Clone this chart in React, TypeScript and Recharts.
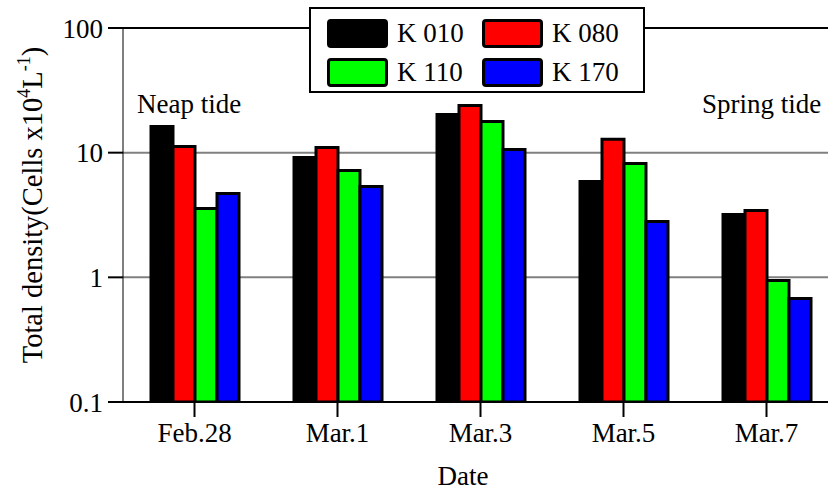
import { BarChart, Bar, XAxis, YAxis, CartesianGrid, ReferenceLine, Legend, Customized } from 'recharts'

const dates = ['Feb.28', 'Mar.1', 'Mar.3', 'Mar.5', 'Mar.7']
const k010 = [16.2, 9.15, 20.2, 5.87, 3.19]
const k080 = [11.2, 11.0, 23.9, 12.8, 3.44]
const k110 = [3.57, 7.19, 17.8, 8.19, 0.943]
const k170 = [4.7, 5.35, 10.6, 2.8, 0.676]
const yTicks = [0.1, 1, 10, 100]

const data = dates.map((date, i) => ({
  date,
  'K 010': k010[i],
  'K 080': k080[i],
  'K 110': k110[i],
  'K 170': k170[i],
}))

const FONT = '"Liberation Serif", "Times New Roman", serif'

const renderLegend = (props: any) => {
  const { payload = [] } = props
  return (
    <div
      style={{
        boxSizing: 'border-box',
        width: 336,
        height: 86,
        border: '2px solid #000',
        background: '#fff',
        display: 'grid',
        gridTemplateColumns: '155px 155px',
        rowGap: 6,
        padding: '10px 0 0 16px',
        fontFamily: FONT,
        fontSize: 27,
        color: '#000',
      }}
    >
      {payload.map((entry: any) => (
        <div key={entry.value} style={{ display: 'flex', alignItems: 'center', height: 29 }}>
          <span
            style={{
              display: 'inline-block',
              boxSizing: 'border-box',
              width: 61,
              height: 29,
              border: '3px solid #000',
              borderRadius: 4,
              background: entry.color,
              marginRight: 9,
            }}
          />
          <span style={{ lineHeight: '29px' }}>{entry.value}</span>
        </div>
      ))}
    </div>
  )
}

// texts that are not tied to an axis
const Notes = () => (
  <g fontFamily={FONT} fontSize={27} fill="#000">
    <text x={137} y={113}>Neap tide</text>
    <text x={702} y={113}>Spring tide</text>
    <text x={463} y={485} textAnchor="middle">Date</text>
    <text x={42} y={205} fontSize={28.5} textAnchor="middle" transform="rotate(-90, 42, 205)">
      Total density(Cells x10
      <tspan dy={-12} fontSize={18}>4</tspan>
      <tspan dy={12}>L</tspan>
      <tspan dy={-12} fontSize={18}>-1</tspan>
      <tspan dy={12}>)</tspan>
    </text>
  </g>
)

export default function App() {
  return (
    <div style={{ position: 'absolute', left: 0, top: 0, width: 828, height: 494, overflow: 'hidden', background: '#fff' }}>
      <BarChart
        width={850}
        height={494}
        data={data}
        margin={{ top: 28, right: 12, left: 23, bottom: 32 }}
        barSize={22}
        barGap={0}
      >
        <CartesianGrid vertical={false} stroke="#808080" strokeWidth={2} />
        <XAxis
          dataKey="date"
          height={60}
          interval={0}
          tickSize={15}
          tickMargin={6}
          axisLine={{ stroke: '#000', strokeWidth: 2 }}
          tickLine={{ stroke: '#000', strokeWidth: 2 }}
          tick={{ fill: '#000', fontSize: 27, fontFamily: FONT }}
        />
        <YAxis
          width={100}
          scale="log"
          domain={[0.1, 100]}
          ticks={yTicks}
          allowDataOverflow
          interval={0}
          tickSize={15}
          tickMargin={5}
          tickFormatter={(v: number) => String(v)}
          axisLine={{ stroke: '#000', strokeWidth: 1 }}
          tickLine={{ stroke: '#000', strokeWidth: 2 }}
          tick={{ fill: '#000', fontSize: 27, fontFamily: FONT }}
        />
        <ReferenceLine y={100} stroke="#000" strokeWidth={2} />
        <Legend
          layout="horizontal"
          verticalAlign="middle"
          align="center"
          content={renderLegend}
          wrapperStyle={{ left: 309, top: 7, width: 336, height: 86 }}
        />
        <Bar dataKey="K 010" fill="#000000" stroke="#000" strokeWidth={3} isAnimationActive={false} />
        <Bar dataKey="K 080" fill="#ff0000" stroke="#000" strokeWidth={3} isAnimationActive={false} />
        <Bar dataKey="K 110" fill="#00ff00" stroke="#000" strokeWidth={3} isAnimationActive={false} />
        <Bar dataKey="K 170" fill="#0000ff" stroke="#000" strokeWidth={3} isAnimationActive={false} />
        <Customized component={Notes} />
      </BarChart>
    </div>
  )
}
